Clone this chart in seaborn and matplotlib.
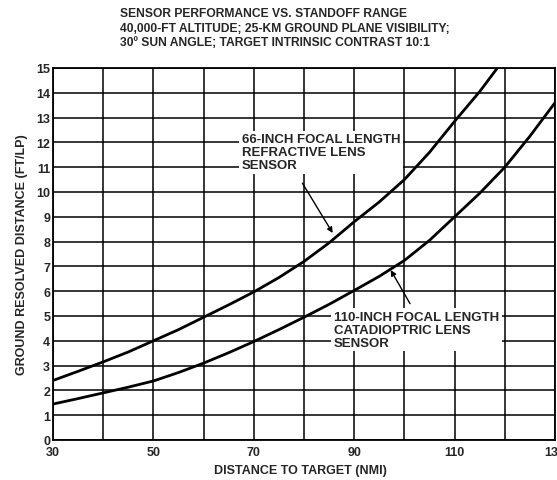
import matplotlib
matplotlib.use("Agg")
import matplotlib.pyplot as plt
import seaborn as sns
import pandas as pd

# Data
distance_66 = [30, 35, 40, 45, 50, 55, 60, 65, 70, 75, 80, 85, 90, 95, 100, 105, 110, 115, 120]
resolved_66 = [2.4, 2.77, 3.15, 3.55, 4.0, 4.45, 4.95, 5.45, 5.97, 6.55, 7.2, 7.95, 8.8,
               9.6, 10.5, 11.6, 12.85, 14.05, 15.4]
distance_110 = [30, 35, 40, 45, 50, 55, 60, 65, 70, 75, 80, 85, 90, 95, 100, 105, 110,
                115, 120, 125, 130]
resolved_110 = [1.45, 1.67, 1.9, 2.13, 2.38, 2.72, 3.1, 3.52, 3.97, 4.45, 4.95, 5.47, 6.03,
                6.6, 7.24, 8.05, 9.0, 9.95, 11.0, 12.25, 13.6]

x_ticks = [30, 50, 70, 90, 110, 130]
x_minor = [40, 60, 80, 100, 120]
y_ticks = list(range(0, 16))

title_lines = ["SENSOR PERFORMANCE VS. STANDOFF RANGE",
               "40,000-FT ALTITUDE; 25-KM GROUND PLANE VISIBILITY;",
               "30º SUN ANGLE; TARGET INTRINSIC CONTRAST 10:1"]
label_66 = "66-INCH FOCAL LENGTH\nREFRACTIVE LENS\nSENSOR"
label_110 = "110-INCH FOCAL LENGTH\nCATADIOPTRIC LENS\nSENSOR"

sns.set_style("white")
plt.rcParams['font.family'] = ['Liberation Sans', 'DejaVu Sans']
plt.rcParams['font.weight'] = 'bold'

df = pd.concat([
    pd.DataFrame({"x": distance_66, "y": resolved_66, "s": "66"}),
    pd.DataFrame({"x": distance_110, "y": resolved_110, "s": "110"}),
])

fig = plt.figure(figsize=(5.57, 4.81), dpi=100)
ax = fig.add_axes([53/557, 1-441/481, (555-53)/557, (441-69)/481])

sns.lineplot(data=df, x="x", y="y", units="s", estimator=None, color="black",
             linewidth=2.0, ax=ax, zorder=3, legend=False)

ax.set_xlim(30, 130)
ax.set_ylim(0, 15)
ax.set_xticks(x_ticks)
ax.set_xticks(x_minor, minor=True)
ax.set_yticks(y_ticks)
ax.grid(True, which="both", color="black", linewidth=1.1)
ax.tick_params(which="both", length=0, labelsize=9)
ax.tick_params(axis="x", pad=4)
ax.tick_params(axis="y", pad=2)
for lbl in ax.get_xticklabels() + ax.get_yticklabels():
    lbl.set_fontweight("bold")
for sp in ax.spines.values():
    sp.set_color("black")
    sp.set_linewidth(1.3)

ax.set_xlabel("DISTANCE TO TARGET (NMI)", fontsize=9, fontweight="bold", va="center")
ax.xaxis.set_label_coords((300 - 53) / 502, (441 - 471.5) / 372)
ax.set_ylabel("GROUND RESOLVED DISTANCE (FT/LP)", fontsize=9, fontweight="bold", labelpad=6)

fig.text(120/557, 1-8/481, "\n".join(title_lines), ha="left", va="top",
         fontsize=8.7, fontweight="bold", linespacing=1.3)

bbox = dict(facecolor="white", edgecolor="none", pad=2)
ax.text(67.6, 11.6, label_66, ha="left", va="center", fontsize=9.5, fontweight="bold",
        linespacing=1.1, bbox=bbox, zorder=4)
ax.annotate("", xy=(86, 8.25), xytext=(79.4, 10.45),
            arrowprops=dict(arrowstyle="-|>", color="black", lw=1.0, mutation_scale=8),
            zorder=5)

ax.text(86.0, 4.45, label_110, ha="left", va="center", fontsize=9.5, fontweight="bold",
        linespacing=1.1, bbox=bbox, zorder=4)
ax.annotate("", xy=(97, 6.95), xytext=(101.4, 5.4),
            arrowprops=dict(arrowstyle="-|>", color="black", lw=1.0, mutation_scale=8),
            zorder=5)

fig.savefig("out.png", dpi=100)
